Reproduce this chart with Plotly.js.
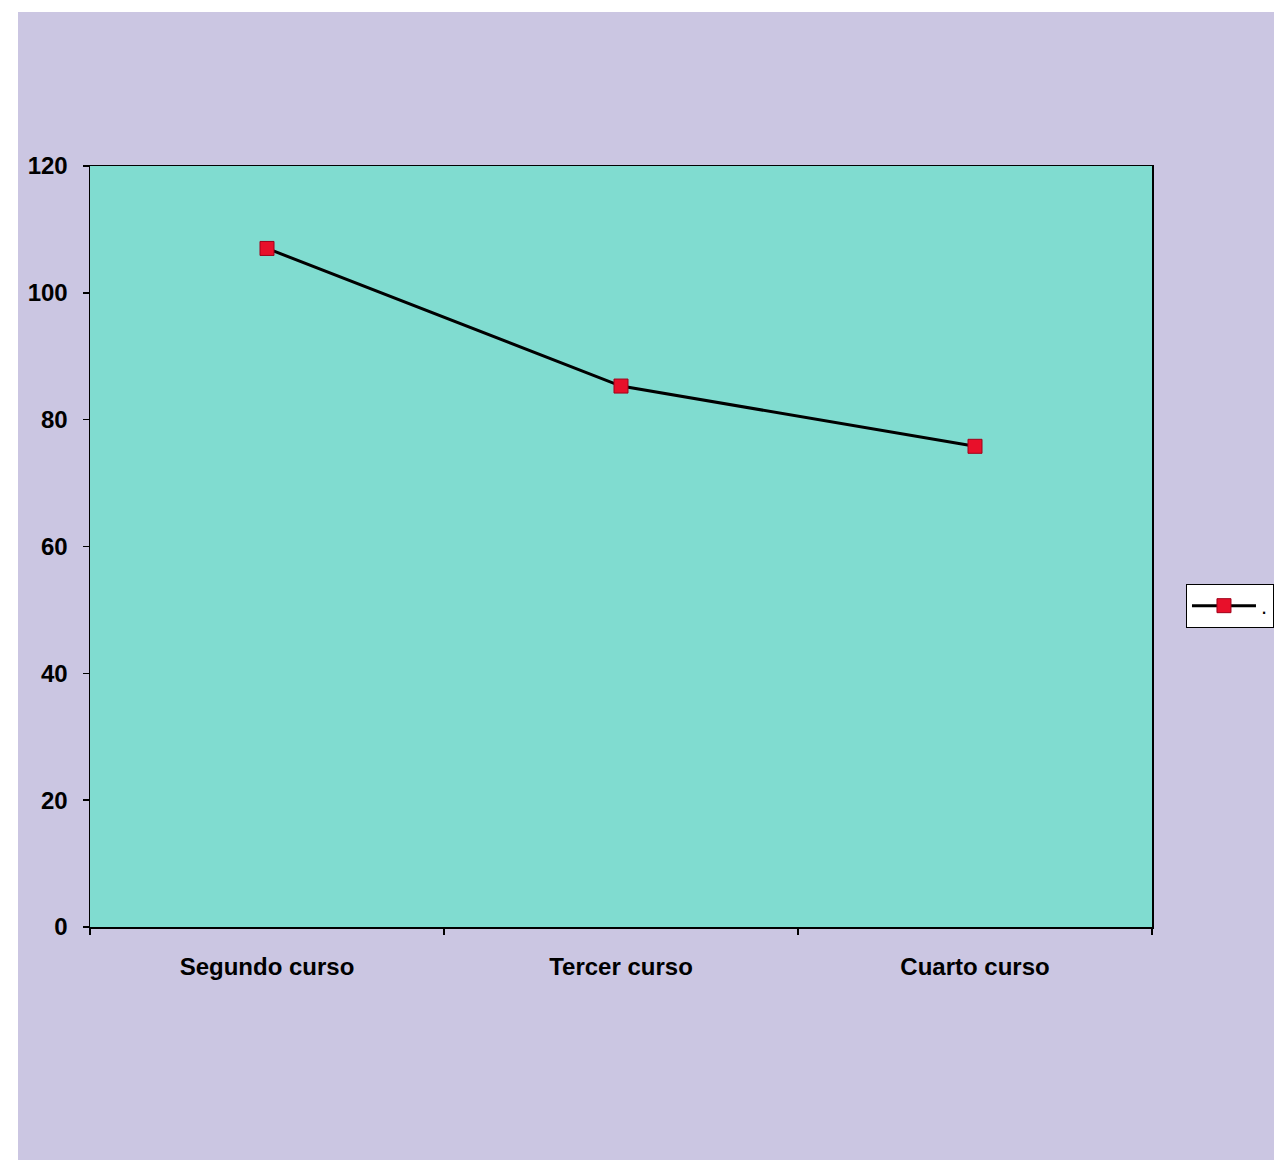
<!DOCTYPE html>
<html>
<head>
<meta charset="utf-8">
<script src="https://cdn.plot.ly/plotly-3.0.1.min.js"></script>
<style>
  html, body { margin: 0; padding: 0; background: #ffffff; }
  #chart { width: 1274px; height: 1160px; }
</style>
</head>
<body>
<div id="chart"></div>
<script>
const categories = ["Segundo curso", "Tercer curso", "Cuarto curso"];
const values = [107, 85.3, 75.8];
const seriesName = ".";
const yTicks = [0, 20, 40, 60, 80, 100, 120];

const trace = {
  type: "scatter",
  mode: "lines+markers",
  x: categories,
  y: values,
  name: seriesName,
  line: { color: "#000000", width: 3 },
  marker: { symbol: "square", size: 14, color: "#e8102a", line: { color: "#a0001a", width: 1 } }
};

const layout = {
  width: 1274,
  height: 1160,
  margin: { l: 90, r: 122, t: 166, b: 233, autoexpand: false },
  paper_bgcolor: "#cbc6e2",
  plot_bgcolor: "#80dcd0",
  font: { family: "Liberation Sans, Arial, sans-serif", size: 24, color: "#000000" },
  showlegend: true,
  legend: {
    x: 1.032, xanchor: "left",
    y: 0.422, yanchor: "middle",
    bgcolor: "#ffffff",
    bordercolor: "#000000",
    borderwidth: 1,
    font: { size: 22, color: "#000000" },
    itemwidth: 64
  },
  xaxis: {
    type: "category",
    range: [-0.5, 2.5],
    showline: true, linecolor: "#000000", linewidth: 1.5,
    mirror: true,
    showgrid: false, zeroline: false,
    ticks: "outside", ticklen: 6, tickcolor: "#000000", tickwidth: 1.5,
    tickson: "boundaries",
    ticklabelstandoff: 18,
    tickfont: { size: 24, weight: "bold" }
  },
  yaxis: {
    range: [0, 120],
    tickvals: yTicks,
    showline: true, linecolor: "#000000", linewidth: 1.5,
    mirror: true,
    showgrid: false, zeroline: false,
    ticks: "outside", ticklen: 6, tickcolor: "#000000", tickwidth: 1.5,
    ticklabelstandoff: 10,
    tickfont: { size: 24, weight: "bold" }
  },
  shapes: [
    { type: "rect", xref: "paper", yref: "paper", x0: -0.0848, x1: 1.12, y0: 1.2024, y1: 1.22, fillcolor: "#ffffff", line: { width: 0 }, layer: "below" },
    { type: "rect", xref: "paper", yref: "paper", x0: -0.0848, x1: -0.0678, y0: -0.31, y1: 1.22, fillcolor: "#ffffff", line: { width: 0 }, layer: "below" }
  ]
};

Plotly.newPlot("chart", [trace], layout, { displayModeBar: false, staticPlot: true });
</script>
</body>
</html>
